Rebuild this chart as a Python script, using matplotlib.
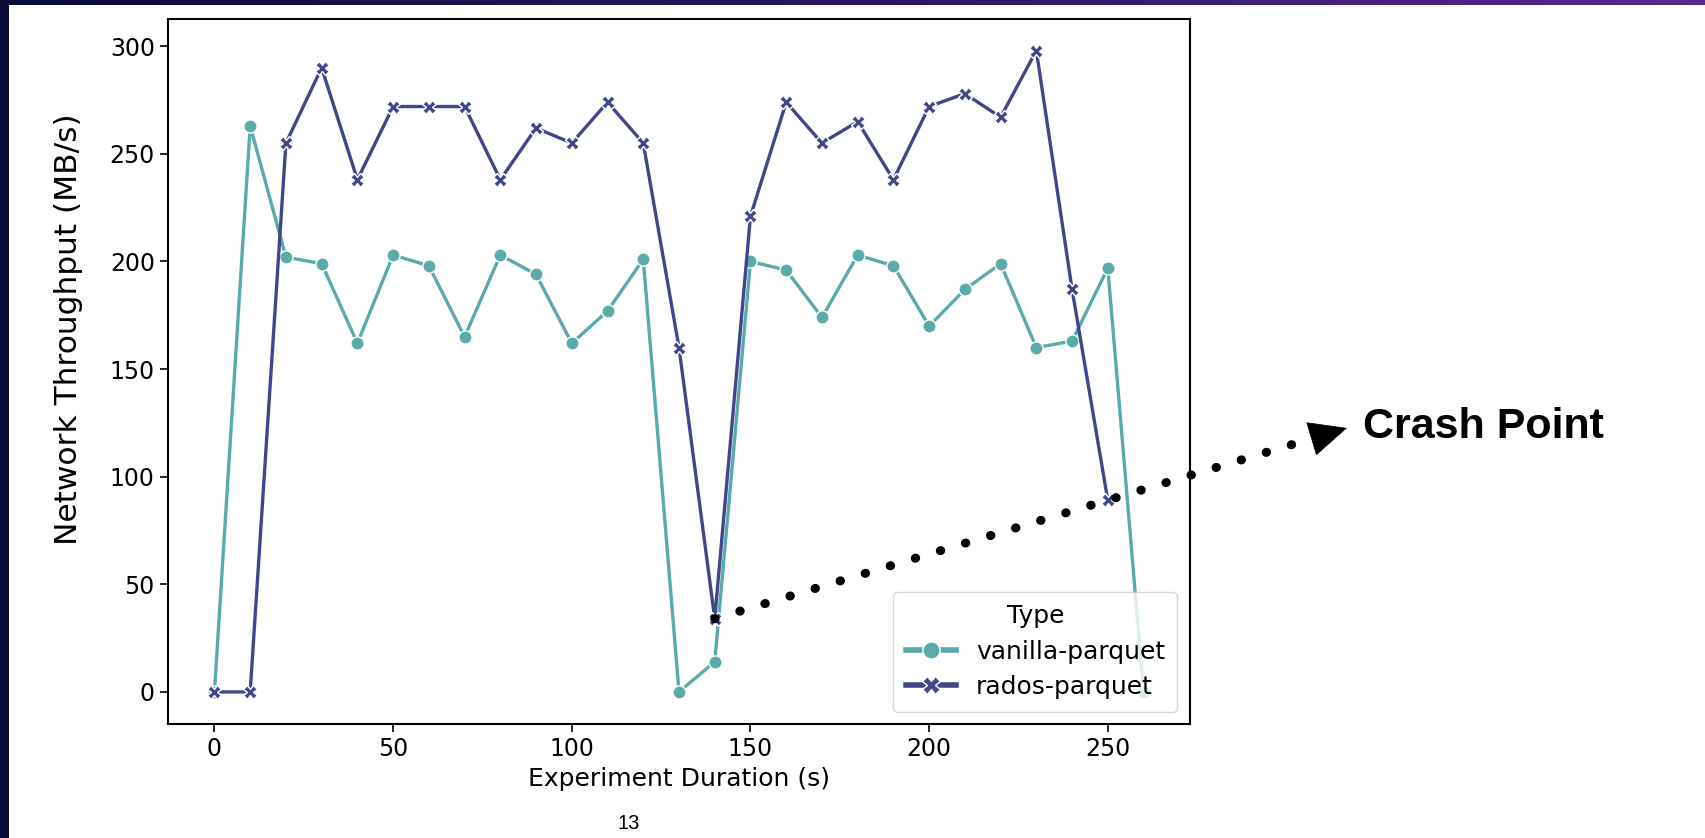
import numpy as np
import matplotlib
matplotlib.use("Agg")
import matplotlib.pyplot as plt
from matplotlib.patches import Rectangle
from matplotlib.lines import Line2D
from matplotlib.colors import LinearSegmentedColormap

# experiment data (MB/s every 10 s)
vanilla_t = [0, 10, 20, 30, 40, 50, 60, 70, 80, 90, 100, 110, 120, 130,
             140, 150, 160, 170, 180, 190, 200, 210, 220, 230, 240, 250, 260]
vanilla_mb = [0, 263, 202, 199, 162, 203, 198, 165, 203, 194, 162, 177, 201, 0,
              14, 200, 196, 174, 203, 198, 170, 187, 199, 160, 163, 197, 0]

rados_t = [0, 10, 20, 30, 40, 50, 60, 70, 80, 90, 100, 110, 120, 130,
           140, 150, 160, 170, 180, 190, 200, 210, 220, 230, 240, 250]
rados_mb = [0, 0, 255, 290, 238, 272, 272, 272, 238, 262, 255, 274, 255, 160,
            34, 221, 274, 255, 265, 238, 272, 278, 267, 298, 187, 89]

xticks = [0, 50, 100, 150, 200, 250]
yticks = [0, 50, 100, 150, 200, 250, 300]

crash_t, crash_mb = 140, 34

teal = "#5aaaa9"
navy = "#414689"

W, H = 1706, 838
fig = plt.figure(figsize=(W / 100, H / 100), dpi=100)
fig.patch.set_facecolor("white")

ax = fig.add_axes([168 / W, 1 - 724 / H, (1190 - 168) / W, (724 - 18.5) / H])

ax.plot(vanilla_t, vanilla_mb, color=teal, lw=2.4, marker="o", ms=9.5,
        mec="white", mew=1.0, label="vanilla-parquet", zorder=3)
ax.plot(rados_t, rados_mb, color=navy, lw=2.4, marker="X", ms=9.5,
        mec="white", mew=1.0, label="rados-parquet", zorder=3)

ax.set_xticks(xticks)
ax.set_yticks(yticks)
ax.tick_params(labelsize=17, length=6, width=1.2)
for s in ax.spines.values():
    s.set_linewidth(1.5)
ax.set_xlabel("Experiment Duration (s)", fontsize=18, labelpad=4)
ax.set_ylabel("Network Throughput (MB/s)", fontsize=22.5)
ax.yaxis.set_label_coords(-0.083, 0.56)

leg = ax.legend(title="Type", loc="lower right", fontsize=18, title_fontsize=18,
                markerscale=1.3, handlelength=2.0, borderpad=0.5,
                labelspacing=0.45, framealpha=0.8)
for h in leg.get_lines():
    h.set_linewidth(4)

# dotted pointer from the crash sample to the label (pixel coords, y down)
tip = np.array([1347.0, 428.0])
sx, sy = ax.transData.transform((crash_t, crash_mb))
start_px = np.array([sx, H - sy])
u = (tip - start_px) / np.linalg.norm(tip - start_px)
line_end = tip - 44 * u
head_base = tip - 36 * u

fig.lines.append(Line2D([start_px[0] / W, line_end[0] / W],
                        [1 - start_px[1] / H, 1 - line_end[1] / H],
                        transform=fig.transFigure, color="black", lw=6.5,
                        ls=(0, (0.05, 2.85)), dash_capstyle="round", zorder=5))
ax.annotate("", xy=(tip[0] / W, 1 - tip[1] / H), xycoords="figure fraction",
            xytext=(head_base[0] / W, 1 - head_base[1] / H), textcoords="figure fraction",
            arrowprops=dict(arrowstyle="-|>,head_length=26,head_width=12",
                            mutation_scale=1, lw=0.5, color="black",
                            shrinkA=0, shrinkB=0),
            annotation_clip=False, zorder=4)

fig.text(1363 / W, 1 - 438 / H, "Crash Point", fontsize=31, fontweight="bold",
         family="Liberation Sans", ha="left", va="baseline")

# slide decorations
fig.text(629 / W, 1 - 823 / H, "13", fontsize=14.5, family="Liberation Sans",
         ha="center", va="center")
fig.patches.append(Rectangle((0, 0), 9 / W, 1, transform=fig.transFigure,
                             facecolor="#0b0b3c", edgecolor="none", zorder=10))
band = fig.add_axes([0, 1 - 5 / H, 1, 5 / H])
band.axis("off")
grad = np.linspace(0, 1, 256)[None, :]
cmap = LinearSegmentedColormap.from_list("band", ["#0b0b3c", "#2a1660", "#5a2a8e"])
band.imshow(grad, aspect="auto", cmap=cmap, extent=[0, 1, 0, 1])

fig.savefig("out.png", dpi=100, facecolor="white")
